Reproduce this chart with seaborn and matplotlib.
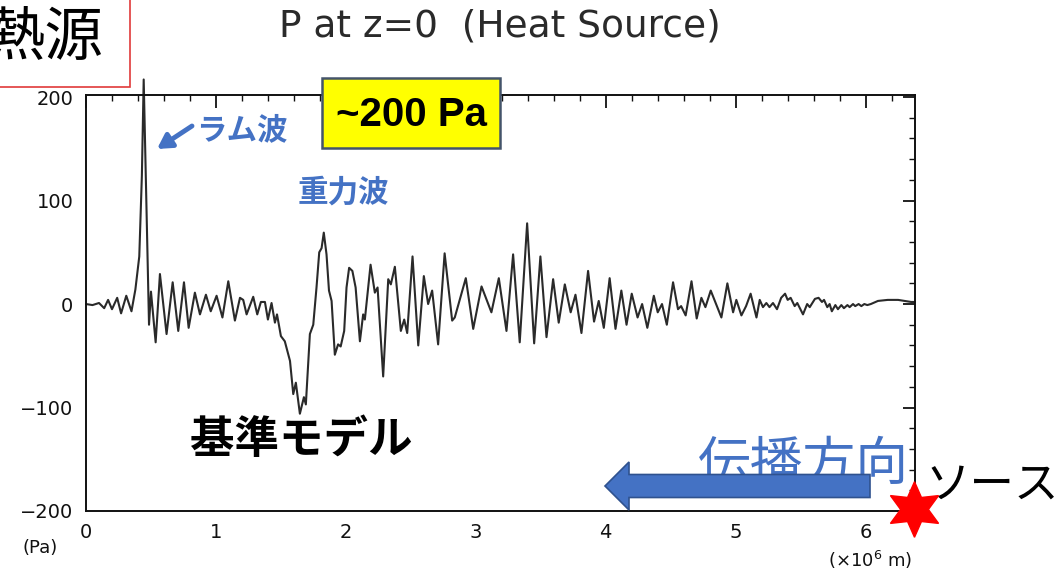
import matplotlib
matplotlib.use("Agg")
import matplotlib.pyplot as plt
from matplotlib.patches import Rectangle, FancyArrow
from matplotlib.lines import Line2D
from matplotlib.ticker import MultipleLocator
import seaborn as sns
import pandas as pd

# ---- data (x in 10^6 m, pressure in Pa) ----
distance = [
    0.00, 0.05, 0.10, 0.14, 0.17, 0.20, 0.24, 0.27, 0.31, 0.35, 0.38, 0.41, 0.43, 0.444, 0.46,
    0.485, 0.50, 0.536, 0.569, 0.62, 0.667, 0.71, 0.754, 0.79, 0.838, 0.877, 0.923, 0.96, 1.005,
    1.05, 1.095, 1.146, 1.185, 1.21, 1.236, 1.287, 1.318, 1.346, 1.377, 1.40, 1.428, 1.454, 1.47,
    1.50, 1.53, 1.57, 1.595, 1.615, 1.646, 1.677, 1.692, 1.723, 1.749, 1.774, 1.795, 1.813, 1.83,
    1.851, 1.87, 1.89, 1.915, 1.94, 1.96, 1.987, 2.005, 2.025, 2.05, 2.075, 2.108, 2.133, 2.146,
    2.19, 2.223, 2.244, 2.287, 2.326, 2.346, 2.377, 2.423, 2.449, 2.472, 2.513, 2.557, 2.60, 2.633,
    2.664, 2.71, 2.76, 2.818, 2.838, 2.923, 2.98, 3.044, 3.12, 3.177, 3.236, 3.287, 3.338, 3.395,
    3.449, 3.497, 3.544, 3.595, 3.638, 3.685, 3.73, 3.767, 3.813, 3.864, 3.91, 3.946, 3.985, 4.03,
    4.075, 4.12, 4.16, 4.20, 4.245, 4.28, 4.32, 4.37, 4.40, 4.433, 4.47, 4.518, 4.556, 4.58, 4.615,
    4.66, 4.70, 4.736, 4.767, 4.808, 4.846, 4.89, 4.936, 4.98, 5.005, 5.044, 5.08, 5.115, 5.16,
    5.185, 5.21, 5.236, 5.26, 5.287, 5.318, 5.35, 5.38, 5.40, 5.423, 5.454, 5.474, 5.518, 5.55,
    5.57, 5.61, 5.638, 5.664, 5.68, 5.705, 5.723, 5.74, 5.767, 5.787, 5.813, 5.833, 5.86, 5.877,
    5.903, 5.92, 5.946, 5.967, 5.99, 6.013, 6.04, 6.095, 6.17, 6.25, 6.30, 6.35, 6.38,
]
pressure = [
    0, -1, 1, -4, 4, -5, 6, -9, 8, -7, 14, 46, 124, 217, 124,
    -20, 12, -37, 29, -29, 21, -26, 21, -23, 11, -10, 9, -7, 8,
    -13, 22, -16, 6, 4, -10, 7, -10, 2, 2, -15, 1, -18, -10,
    -31, -36, -55, -87, -76, -106, -90, -97, -29, -20, 16, 50, 54, 69,
    48, 13, 3, -49, -39, -41, -26, 16, 35, 32, 16, -36, -10, -15,
    38, 11, 16, -70, 24, 19, 36, -26, -15, -28, 46, -40, 27, 0,
    13, -39, 49, -16, -13, 25, -24, 17, -8, 25, -26, 48, -37, 78,
    -38, 46, -32, 24, -18, 19, -8, 9, -28, 32, -17, 3, -23, 25,
    -24, 13, -20, 10, -13, 0, -23, 8, -8, 0, -20, 21, -5, -2, -11,
    22, -14, 6, -3, 13, 1, -13, 20, -8, 4, -11, -2, 10, -13,
    4, -3, 1, -3, 1, -5, 6, 10, 4, 6, -2, 1, -10, 0,
    -3, 5, 6, 2, 4, -3, 0, -7, -1, -5, -1, -4, -1, -3,
    0, -2, 0, -2, 0, -1, 0, 3, 4, 4, 3, 2, 2,
]
x_ticks = [0, 1, 2, 3, 4, 5, 6]
y_ticks = [-200, -100, 0, 100, 200]

title_text = "P at z=0  (Heat Source)"
label_source = "熱源"
label_amp = "~200 Pa"
label_lamb = "ラム波"
label_gravity = "重力波"
label_model = "基準モデル"
label_dir = "伝播方向"
label_src = "ソース"

df = pd.DataFrame({"x": distance, "p": pressure})

sns.set_theme(style="white")
plt.rcParams["font.family"] = ["DejaVu Sans", "Noto Sans CJK JP"]

W, H = 1057, 576
fig = plt.figure(figsize=(W / 100, H / 100), dpi=100)
fig.patch.set_facecolor("white")

def fx(px):
    return px / W

def fy(py):
    return 1 - py / H

ax = fig.add_axes([fx(86), fy(511), fx(915) - fx(86), fy(95) - fy(511)])
ax.set_facecolor("white")

sns.lineplot(data=df, x="x", y="p", sort=False, estimator=None, ax=ax,
             color="#2a2a2a", linewidth=1.5, clip_on=False,
             solid_joinstyle="round")

ax.set_xlim(0, 6.38)
ax.set_ylim(-200, 202)
ax.set_xticks(x_ticks)
ax.set_yticks(y_ticks)
ax.set_xticklabels([str(v) for v in x_ticks])
ax.set_yticklabels([f"{v}".replace("-", "\u2212") for v in y_ticks])
ax.xaxis.set_minor_locator(MultipleLocator(0.2))
ax.yaxis.set_minor_locator(MultipleLocator(20))
ax.tick_params(which="both", direction="in", top=True, right=True,
               colors="#111111", labelsize=14)
ax.tick_params(which="major", length=9, width=1.3, pad=9)
ax.tick_params(which="minor", length=4.5, width=1.0)
ax.set_xlabel("")
ax.set_ylabel("")
for s in ax.spines.values():
    s.set_color("#111111")
    s.set_linewidth(1.4)

# title
fig.text(fx(500), fy(26), title_text, ha="center", va="center",
         fontsize=27, color="#2a2a2a")

# unit labels
fig.text(fx(40), fy(548), "(Pa)", ha="center", va="center", fontsize=13, color="#111111")
fig.text(fx(870), fy(560), r"(×10$^6$ m)", ha="center", va="center", fontsize=13, color="#111111")

cjk = ["Noto Sans CJK JP", "DejaVu Sans"]

# heat source box
fig.add_artist(Rectangle((fx(-5), fy(87)), fx(135), fy(-5) - fy(87), transform=fig.transFigure,
                         facecolor="white", edgecolor="#e03a3a", linewidth=1.2, zorder=5))
fig.text(fx(45), fy(38), label_source, ha="center", va="center", fontsize=42,
         family=cjk, color="black", zorder=6)

# ~200 Pa box
fig.add_artist(Rectangle((fx(322), fy(148)), fx(500) - fx(322), fy(78) - fy(148),
                         transform=fig.transFigure, facecolor="#ffff00",
                         edgecolor="#44546a", linewidth=1.8, zorder=5))
fig.text(fx(411), fy(115), label_amp, ha="center", va="center", fontsize=29,
         family=["Liberation Sans", "DejaVu Sans"], fontweight="bold", color="black", zorder=6)

blue = "#4472C4"
# Lamb wave label + arrow
fig.text(fx(196), fy(130), label_lamb, ha="left", va="center", fontsize=22,
         family=cjk, fontweight="bold", color=blue)
ax.annotate("", xy=(fx(157), fy(149)), xytext=(fx(192), fy(126)),
            xycoords="figure fraction", textcoords="figure fraction",
            arrowprops=dict(arrowstyle="-|>,head_length=0.7,head_width=0.4",
                            color=blue, lw=3.5, shrinkA=0, shrinkB=0))
fig.text(fx(343), fy(193), label_gravity, ha="center", va="center", fontsize=22,
         family=cjk, fontweight="bold", color=blue)

fig.text(fx(301), fy(440), label_model, ha="center", va="center", fontsize=32,
         family=cjk, fontweight="bold", color="black")

fig.text(fx(803), fy(464), label_dir, ha="center", va="center", fontsize=38,
         family=cjk, color=blue)

# propagation arrow (in inches, dpi 100)
arrow = FancyArrow(8.70, (H - 486) / 100, -2.65, 0, width=0.23, head_width=0.48,
                   head_length=0.24, length_includes_head=True,
                   transform=fig.dpi_scale_trans, facecolor=blue,
                   edgecolor="#2f528f", linewidth=1.2, zorder=6)
fig.add_artist(arrow)

fig.text(fx(925), fy(485), label_src, ha="left", va="center", fontsize=32,
         family=cjk, color="black")

star = Line2D([fx(914)], [fy(509)], marker=(6, 1, 0), markersize=40,
              color="#ff0000", markeredgecolor="#ff0000", linestyle="none",
              transform=fig.transFigure, zorder=10)
fig.add_artist(star)

fig.savefig("out.png", dpi=100, facecolor="white")
